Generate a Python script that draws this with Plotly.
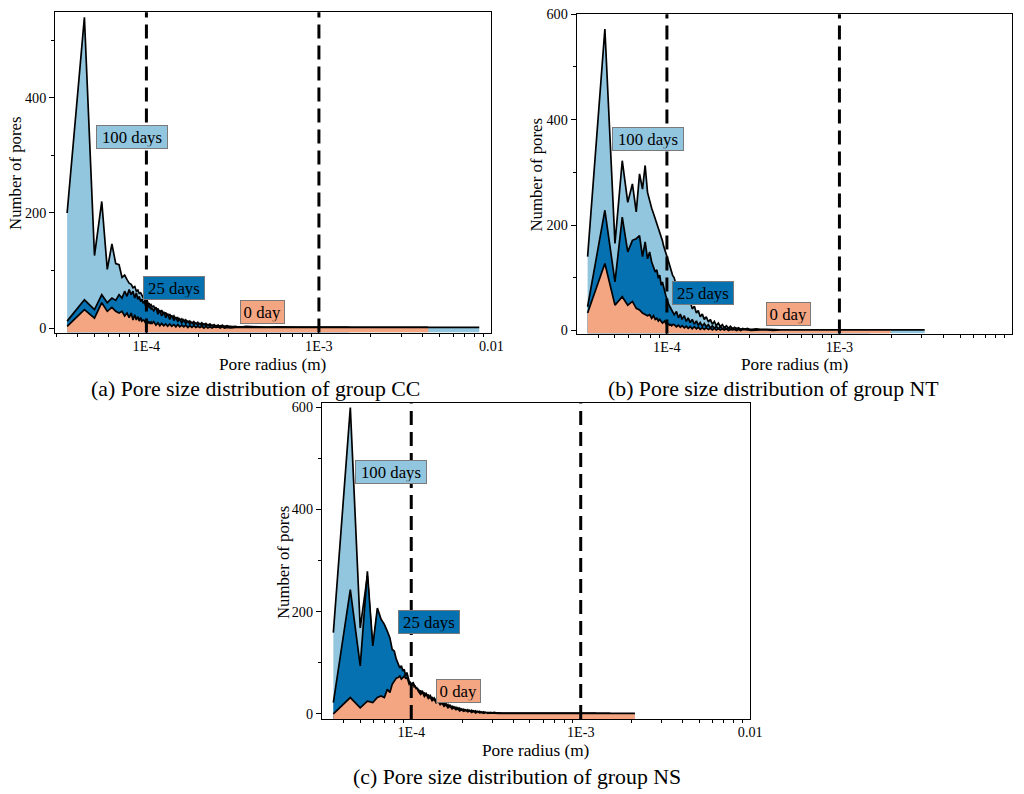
import plotly.graph_objects as go

# ---------------- data ----------------
# pore radius grid (micrometres)
RADIUS_UM = [34.7, 43.7, 50.0, 55.1, 59.3, 63.1, 66.4, 69.4, 72.2, 74.8,
             77.2, 79.4, 81.6, 83.6, 85.6, 87.4, 89.2, 90.9, 92.6, 94.2,
             95.7, 97.2, 98.6, 100.1, 101.5, 102.8, 104.1, 105.4, 106.6, 107.8,
             110.2, 113.6, 116.6, 119.6, 122.5, 126.1, 129.5, 132.8, 136.5, 140.2,
             144.3, 148.2, 152.0, 156.0, 160.4, 164.7, 169.1, 174.0, 178.5, 183.5,
             188.3, 193.3, 198.6, 204.1, 209.5, 215.5, 221.2, 227.3, 233.6, 240.0,
             246.8, 253.4, 260.3, 267.5, 275.4, 283.2, 292.7, 308.2, 328.9, 347.0,
             378.9, 414.1, 451.5, 500.6, 572.7, 662.8, 771.6, 908.5, 1054, 1234,
             1496, 1980, 2090, 3120, 4300, 8500]

CC_100 = [200, 540, 126, 220, 102, 146, 112, 110, 88, 92, 84, 78, 76, 70, 72, 64, 66, 60, 61, 55,
          53, 50, 48, 44, 46, 41, 42, 38, 40, 37,
          38, 28, 34, 25, 31, 22, 27, 19, 24, 16, 21, 14, 18, 12, 16, 10, 14, 9, 12, 7,
          11, 6, 10, 5, 9, 5, 8, 4, 7, 3, 6, 3, 5, 2, 5, 2, 4, 2, 3, 1,
          3, 2, 2, 1, 2, 1, 1, 1, 1, 0, 1, 1, 1, 1, 1, 1]
CC_25 = [12, 49, 32, 58, 44, 52, 48, 58, 52, 64, 55, 67, 58, 64, 52, 61, 50, 55, 46, 50,
         44, 46, 40, 42, 38, 40, 35, 37, 33, 34,
         30, 36, 24, 31, 21, 28, 18, 25, 15, 22, 13, 19, 11, 16, 9, 14, 8, 12, 7, 10,
         6, 9, 5, 8, 4, 7, 4, 6, 3, 5, 2, 4, 2, 4, 1, 3, 1, 3, 1, 2,
         2, 1, 1, 1, 1, 1, 0, 1, 0, 0, 1, None, None, None, None, None]
CC_0 = [3, 32, 17, 44, 29, 36, 29, 26, 29, 21, 26, 18, 26, 14, 23, 14, 20, 12, 18, 12,
        14, 13, 9, 7, 12, 8, 11, 7, 10, 8,
        11, 5, 9, 4, 8, 4, 7, 3, 7, 3, 6, 2, 6, 2, 5, 2, 5, 1, 4, 1,
        4, 1, 3, 1, 3, 0, 3, 0, 2, 0, 2, 1, 2, 0, 2, 0, 1, 0, 1, 1,
        1, 1, 0, 1, 1, 0, 1, 1, 1, 0, 1, 1, 1, 1, 1, None]

NT_100 = [140, 572, 165, 322, 243, 278, 225, 297, 268, 313, 262, 245, 232, 222, 212, 202, 192, 184, 175, 170,
          160, 154, 146, 142, 134, 128, 122, 116, 112, 105,
          100, 84, 90, 70, 76, 60, 66, 50, 56, 41, 46, 33, 38, 26, 31, 21, 26, 16, 21, 12,
          17, 9, 14, 7, 11, 5, 9, 4, 8, 3, 6, 3, 5, 2, 4, 2, 4, 1, 3, 2,
          2, 1, 1, 1, 1, 0, 1, 1, 0, 1, 1, 1, 1, 1, None, None]
NT_25 = [45, 228, 92, 215, 149, 171, 174, 180, 140, 168, 136, 149, 130, 121, 111, 115, 99, 105, 86, 92,
         80, 74, 66, 58, 54, 48, 45, 42, 40, 36,
         30, 36, 24, 31, 21, 28, 17, 24, 15, 21, 12, 18, 10, 15, 8, 13, 7, 11, 5, 9,
         4, 8, 3, 7, 3, 6, 2, 5, 2, 4, 1, 4, 1, 3, 1, 3, 1, 2, 1, 1,
         1, 1, 1, 0, 1, 1, 0, 1, 0, 1, 1, None, None, None, None, None]
NT_0 = [33, 127, 48, 64, 48, 55, 42, 39, 33, 30, 28, 30, 23, 28, 21, 23, 18, 21, 18, 14,
        16, 18, 13, 14, 11, 12, 10, 11, 9, 11,
        11, 7, 10, 6, 9, 5, 8, 4, 7, 3, 7, 3, 6, 2, 5, 2, 5, 2, 4, 1,
        4, 1, 3, 1, 3, 1, 3, 0, 2, 1, 2, 0, 2, 0, 2, 1, 1, 0, 1, 1,
        1, 0, 1, 1, 0, 1, 1, 0, 1, 1, 1, 1, None, None, None, None]

NS_100 = [159, 599, 168, 270, 125, 200, 178, 168, 155, 142, 120, 116, 100, 92, 85, 88, 78, 82, 68, 75,
          62, 58, 55, 52, 50, 55, 48, 50, 44, 45,
          40, 46, 35, 42, 31, 38, 27, 33, 23, 29, 19, 25, 16, 21, 13, 18, 10, 15, 8, 13,
          6, 11, 5, 9, 4, 8, 3, 7, 2, 6, 2, 5, 1, 4, 1, 3, 1, 3, 1, 1,
          1, 1, 1, 0, 1, 0, 1, 0, 1, 1, None, None, None, None, None, None]
NS_25 = [22, 243, 94, 279, 133, 207, 185, 175, 162, 149, 126, 123, 107, 97, 90, 94, 84, 87, 74, 81,
         70, 64, 62, 58, 60, 61, 56, 52, 50, 48,
         48, 40, 44, 36, 40, 32, 36, 27, 31, 23, 27, 19, 23, 16, 20, 13, 17, 11, 14, 9,
         12, 7, 10, 6, 8, 5, 7, 4, 6, 3, 5, 2, 4, 2, 3, 1, 3, 1, 2, 1,
         1, 1, 0, 1, 1, 0, 1, 0, 1, 0, 1, None, None, None, None, None]
NS_0 = [0, 32, 12, 25, 22, 32, 35, 32, 48, 42, 58, 64, 70, 71, 74, 68, 71, 74, 70, 71,
        66, 58, 60, 55, 57, 58, 53, 54, 50, 51,
        44, 38, 42, 34, 38, 30, 33, 26, 29, 22, 25, 18, 21, 15, 18, 12, 15, 10, 12, 8,
        10, 6, 8, 5, 7, 4, 6, 3, 5, 2, 4, 2, 3, 1, 3, 1, 2, 1, 1, 1,
        1, 1, 1, 0, 1, 1, 0, 1, 1, 0, 1, 1, 1, None, None, None]

SERIES_NAMES = ["100 days", "25 days", "0 day"]
X_TICK_VALS = [1e-4, 1e-3, 1e-2]
X_TICK_TEXT = ["1E-4", "1E-3", "0.01"]
Y_TICK_VALS = [0, 200, 400, 600]
Y_MINOR_VALS = [100, 300, 500]
CAPTIONS = ["(a) Pore size distribution of group CC",
            "(b) Pore size distribution of group NT",
            "(c) Pore size distribution of group NS"]
X_TITLE = "Pore radius (m)"
Y_TITLE = "Number of pores"
DASH_AT = [1e-4, 1e-3]

for s in [CC_100, CC_25, CC_0, NT_100, NT_25, NT_0, NS_100, NS_25, NS_0]:
    assert len(s) == len(RADIUS_UM), len(s)

# ---------------- style / layout ----------------
COLORS = {"100 days": "#92C5DE", "25 days": "#0571B0", "0 day": "#F4A582"}
FONT = "Liberation Serif, Times New Roman, serif"
W, H = 1024, 794
# viewer calibration (page is shown slightly reduced and shifted down)
S, DY = 0.9854, 5.8


def fx(px):
    return (px / S) / W


def fy(py):
    return 1 - ((py - DY) / S) / H


def fs(size):
    return size / S


PANELS = [
    dict(data=[CC_100, CC_25, CC_0], frame=(55, 490, 10, 331), xr=(-4.529, -2.0), yr=(-8, 549),
         labels=[(131.5, 135, 65), (173.5, 286.5, 55), (262, 310.5, 38)],
         xt=(272, 363), yt=(16, 172), cap=(255, 387)),
    dict(data=[NT_100, NT_25, NT_0], frame=(575, 1009, 12, 332), xr=(-4.523, -2.0), yr=(-6, 600),
         labels=[(646.5, 137.5, 65), (700.5, 291.5, 55), (786, 312, 38)],
         xt=(792, 363), yt=(535, 173), cap=(771, 387)),
    dict(data=[NS_100, NS_25, NS_0], frame=(321, 748, 402, 718), xr=(-4.527, -2.0), yr=(-9.8, 607),
         labels=[(389.5, 471, 65), (428, 621, 55), (457, 690, 38)],
         xt=(534, 750), yt=(282, 561), cap=(515, 776)),
]

minor_x = [k * d for d in (1e-5, 1e-4, 1e-3) for k in range(2, 10)]

fig = go.Figure()
annotations = []
shapes = []
for i, p in enumerate(PANELS):
    sfx = "" if i == 0 else str(i + 1)
    xa, ya = "x" + sfx, "y" + sfx
    ymin = p["yr"][0]
    for name, vals in zip(SERIES_NAMES, p["data"]):
        xs = [r * 1e-6 for r, v in zip(RADIUS_UM, vals) if v is not None]
        ys = [v for v in vals if v is not None]
        fig.add_trace(go.Scatter(x=xs, y=[ymin] * len(xs), mode="lines", line=dict(width=0),
                                 hoverinfo="skip", showlegend=False, xaxis=xa, yaxis=ya))
        fig.add_trace(go.Scatter(x=xs, y=ys, mode="lines", fill="tonexty", fillcolor=COLORS[name],
                                 line=dict(color="black", width=1.7), name=name, showlegend=False,
                                 xaxis=xa, yaxis=ya))
    x0, x1, y0, y1 = p["frame"]
    axis_common = dict(showline=True, mirror=True, linecolor="black", linewidth=1.2,
                       showgrid=False, zeroline=False, tickcolor="black",
                       tickfont=dict(family=FONT, size=fs(14), color="black"))
    fig.layout["xaxis" + sfx] = dict(
        axis_common, type="log", range=list(p["xr"]), domain=[fx(x0), fx(x1)],
        anchor=ya, tickmode="array", tickvals=X_TICK_VALS, ticktext=X_TICK_TEXT,
        ticks="inside", ticklen=5, tickwidth=1.2,
        minor=dict(tickmode="array", tickvals=minor_x, ticks="outside", ticklen=3,
                   tickcolor="black", tickwidth=1))
    fig.layout["yaxis" + sfx] = dict(
        axis_common, range=list(p["yr"]), domain=[fy(y1), fy(y0)], anchor=xa,
        tickmode="array", tickvals=Y_TICK_VALS, ticks="outside", ticklen=5, tickwidth=1.2,
        minor=dict(tickmode="array", tickvals=Y_MINOR_VALS, ticks="outside", ticklen=3,
                   tickcolor="black", tickwidth=1))
    for xv in DASH_AT:
        shapes.append(dict(type="line", xref=xa, yref=ya + " domain", x0=xv, x1=xv, y0=0, y1=1,
                           line=dict(color="black", width=3, dash="14px,7px"), layer="above"))
    for name, (cx, cy, w) in zip(SERIES_NAMES, p["labels"]):
        annotations.append(dict(xref="paper", yref="paper", x=fx(cx), y=fy(cy), text=name,
                                showarrow=False, xanchor="center", yanchor="middle",
                                bgcolor=COLORS[name], bordercolor="#7a7a7a", borderwidth=1,
                                borderpad=2, width=fs(w), height=fs(18),
                                font=dict(family=FONT, size=fs(16.5), color="black")))
    annotations.append(dict(xref="paper", yref="paper", x=fx(p["xt"][0]), y=fy(p["xt"][1]),
                            text=X_TITLE, showarrow=False, xanchor="center", yanchor="middle",
                            font=dict(family=FONT, size=fs(17), color="black")))
    annotations.append(dict(xref="paper", yref="paper", x=fx(p["yt"][0]), y=fy(p["yt"][1]),
                            text=Y_TITLE, showarrow=False, xanchor="center", yanchor="middle",
                            textangle=-90, font=dict(family=FONT, size=fs(16.5), color="black")))
    annotations.append(dict(xref="paper", yref="paper", x=fx(p["cap"][0]), y=fy(p["cap"][1]),
                            text=CAPTIONS[i], showarrow=False, xanchor="center", yanchor="middle",
                            font=dict(family=FONT, size=fs(21.5), color="black")))

fig.update_layout(width=W, height=H, margin=dict(l=0, r=0, t=0, b=0, pad=0),
                  paper_bgcolor="white", plot_bgcolor="white", showlegend=False,
                  annotations=annotations, shapes=shapes,
                  font=dict(family=FONT, color="black"))
fig.write_html("out.html", config={"displayModeBar": False},
               post_script="document.body.style.margin='0';document.body.style.overflow='hidden';")
